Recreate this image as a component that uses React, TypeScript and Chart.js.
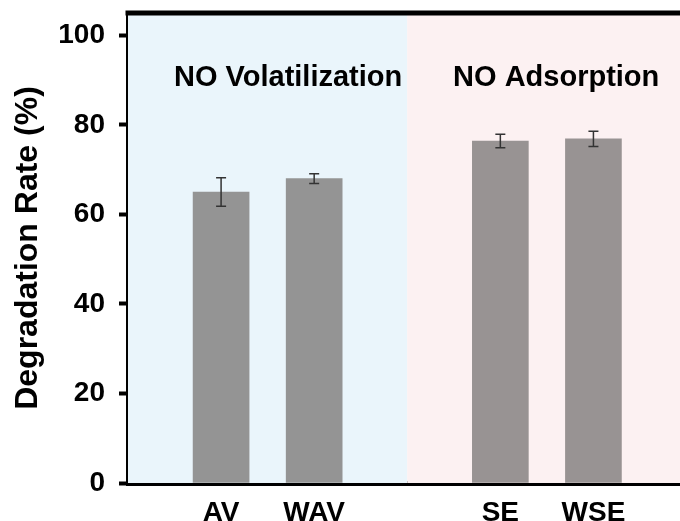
import React, { useEffect, useRef } from "react";
import { Chart, registerables } from "chart.js";

Chart.register(...registerables);

// Data
const categories = ["AV", "WAV", "SE", "WSE"];
const slots = [1, 2, 4, 5]; // category slot on the x axis (slot 3 is the gap)
const degradation = [65.0, 68.0, 76.4, 76.9];
const errors = [3.2, 1.1, 1.5, 1.7];
const barColors = ["#949494", "#949494", "#989393", "#989393"];
const yTicks = [0, 20, 40, 60, 80, 100];
const groupLabels = ["NO Volatilization", "NO Adsorption"];
const groupLabelSlots = [1.72, 4.6];
const groupSplit = 3;

const FONT = "'Liberation Sans', Arial, sans-serif";

export default function App() {
  const ref = useRef<HTMLCanvasElement>(null);

  useEffect(() => {
    const canvas = ref.current;
    if (!canvas) return;

    const bgPlugin = {
      id: "bgPlugin",
      beforeDatasetsDraw(chart: any) {
        const { ctx, chartArea } = chart;
        const xs = chart.scales.x;
        const split = xs.getPixelForValue(groupSplit);
        ctx.save();
        ctx.fillStyle = "#EAF5FB";
        ctx.fillRect(chartArea.left, chartArea.top, split - chartArea.left, chartArea.bottom - chartArea.top);
        ctx.fillStyle = "#FCF1F2";
        ctx.fillRect(split, chartArea.top, chartArea.right - split, chartArea.bottom - chartArea.top);
        ctx.restore();
      },
      afterDatasetsDraw(chart: any) {
        const { ctx, chartArea } = chart;
        const xs = chart.scales.x;
        const ys = chart.scales.y;
        ctx.save();
        // error bars
        ctx.strokeStyle = "#333333";
        ctx.lineWidth = 1.5;
        degradation.forEach((v, i) => {
          const x = xs.getPixelForValue(slots[i]);
          const yt = ys.getPixelForValue(v + errors[i]);
          const yb = ys.getPixelForValue(v - errors[i]);
          ctx.beginPath();
          ctx.moveTo(x, yt);
          ctx.lineTo(x, yb);
          ctx.moveTo(x - 5, yt);
          ctx.lineTo(x + 5, yt);
          ctx.moveTo(x - 5, yb);
          ctx.lineTo(x + 5, yb);
          ctx.stroke();
        });
        // group labels
        ctx.fillStyle = "#000000";
        ctx.font = `bold 29px ${FONT}`;
        ctx.textAlign = "center";
        ctx.textBaseline = "alphabetic";
        groupLabels.forEach((t, i) => {
          ctx.fillText(t, xs.getPixelForValue(groupLabelSlots[i]), ys.getPixelForValue(88.7));
        });
        // top border
        ctx.strokeStyle = "#000000";
        ctx.lineWidth = 5;
        ctx.beginPath();
        ctx.moveTo(chartArea.left - 2.5, chartArea.top);
        ctx.lineTo(chartArea.right, chartArea.top);
        ctx.stroke();
        ctx.restore();
      },
    };

    const chart = new Chart(canvas, {
      type: "bar",
      data: {
        datasets: [
          {
            data: slots.map((s, i) => ({ x: s, y: degradation[i] })),
            backgroundColor: barColors,
            borderWidth: 0,
            barThickness: 56,
          },
        ],
      },
      options: {
        animation: false,
        responsive: false,
        layout: { padding: { top: 13, right: 0, bottom: 0, left: 0 } },
        plugins: { legend: { display: false }, tooltip: { enabled: false } },
        scales: {
          x: {
            type: "linear",
            min: 0,
            max: 5.93,
            offset: false,
            grid: { display: false, drawTicks: false, offset: false },
            border: { display: true, color: "#000000", width: 5 },
            afterBuildTicks(scale: any) {
              scale.ticks = slots.map((v) => ({ value: v }));
            },
            afterFit(scale: any) {
              scale.height = 38;
              scale.paddingLeft = 0;
              scale.paddingRight = 0;
            },
            ticks: {
              padding: 13,
              color: "#000000",
              font: { family: FONT, size: 28, weight: "bold" },
              autoSkip: false,
              maxRotation: 0,
              callback: (v: any) => {
                const i = slots.indexOf(Number(v));
                return i >= 0 ? categories[i] : "";
              },
            },
          },
          y: {
            min: 0,
            max: 105,
            afterBuildTicks(scale: any) {
              scale.ticks = yTicks.map((v) => ({ value: v }));
            },
            afterFit(scale: any) {
              scale.width = 128;
              scale.paddingTop = 0;
              scale.paddingBottom = 0;
            },
            grid: {
              drawOnChartArea: false,
              drawTicks: true,
              tickLength: 9,
              tickWidth: 4,
              tickColor: "#000000",
            },
            border: { display: true, color: "#000000", width: 5 },
            ticks: {
              padding: 14,
              color: "#000000",
              font: { family: FONT, size: 28, weight: "bold" },
            },
            title: {
              display: true,
              text: "Degradation Rate (%)",
              color: "#000000",
              font: { family: FONT, size: 32, weight: "bold" },
              padding: { top: 9, bottom: 0 },
            },
          },
        },
      },
      plugins: [bgPlugin],
    } as any);

    return () => chart.destroy();
  }, []);

  return (
    <div style={{ position: "absolute", left: 0, top: 0, width: 680, height: 521, background: "#ffffff" }}>
      <canvas ref={ref} width={680} height={521} />
    </div>
  );
}
